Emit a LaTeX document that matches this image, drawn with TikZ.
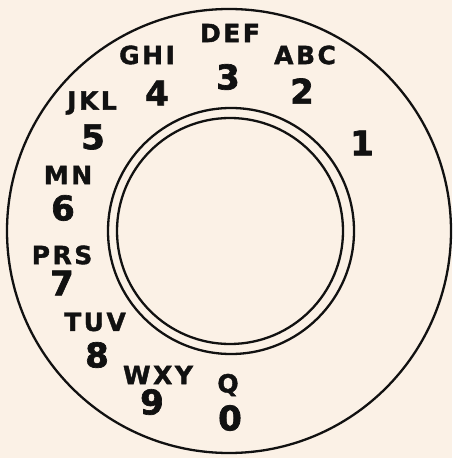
\documentclass[tikz,border=0pt]{standalone}
\usepackage{fontspec}
\usepackage{tikz}
\usetikzlibrary{positioning}
\newfontfamily\dialfont[LetterSpace=10,FakeBold=1.5]{DejaVu Sans}
\newfontfamily\digitfont[FakeBold=2]{DejaVu Sans}
\definecolor{paper}{RGB}{251,241,230}
\definecolor{ink}{RGB}{17,17,17}
\tikzset{
  letters/.style={font=\dialfont\bfseries\fontsize{12.5}{12.5}\selectfont, text=ink, inner sep=0pt},
  digit/.style={font=\digitfont\bfseries\fontsize{17}{17}\selectfont, text=ink, inner sep=0pt},
  rim/.style={line width=1.15pt, draw=ink}
}

\begin{document}
\begin{tikzpicture}[x=0.5pt, y=-0.5pt]
    % paper and bounding box
    \fill[paper] (0,0) rectangle (452,458);
    \useasboundingbox (0,0) rectangle (452,458);

    % dial rings
    \draw[rim] (229,231) circle (222);
    \draw[rim] (231,231) circle (123);
    \draw[rim] (230,231) circle (113);

    % finger holes: digits and letters
    \node[digit] (n1) at (362,143) {1};
    \node[letters] (abc) at (305,55) {ABC};
    \node[digit] (n2) at (302,91) {2};
    \node[letters] (def) at (230,33) {DEF};
    \node[digit] (n3) at (228,77) {3};
    \node[letters] (ghi) at (147,55) {GHI};
    \node[digit] (n4) at (157,93) {4};
    \node[letters] (jkl) at (92,103) {JKL};
    \node[digit] (n5) at (93,137) {5};
    \node[letters] (mn) at (68,175) {MN};
    \node[digit] (n6) at (63,208) {6};
    \node[letters] (prs) at (62,255) {PRS};
    \node[digit] (n7) at (62,283) {7};
    \node[letters] (tuv) at (95,322) {TUV};
    \node[digit] (n8) at (97,355) {8};
    \node[letters] (wxy) at (158,375) {WXY};
    \node[digit] (n9) at (152,402) {9};
    \node[letters] (q) at (228,385) {Q};
    \node[digit] (n0) at (230,418) {0};
\end{tikzpicture}
\end{document}
